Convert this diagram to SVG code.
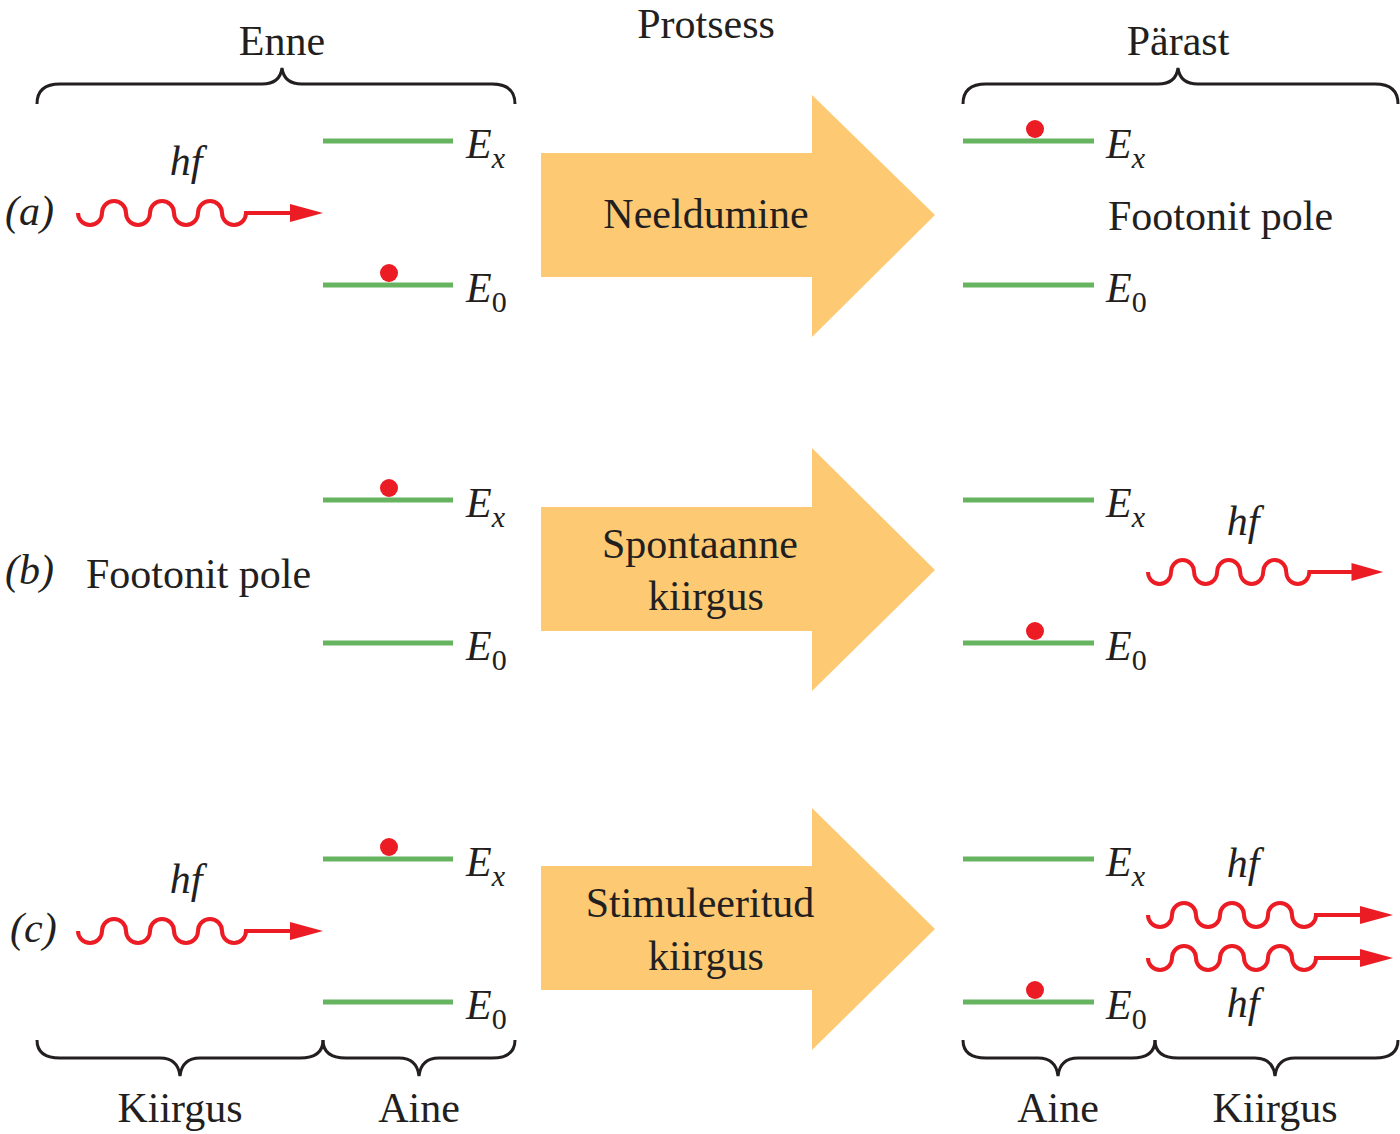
<svg xmlns="http://www.w3.org/2000/svg" xmlns:xlink="http://www.w3.org/1999/xlink" width="1400" height="1134" viewBox="0 0 1400 1134">
<style>
text{font-family:"Liberation Serif","Times New Roman",serif;fill:#231f20}
.t{font-size:42px}
.m{font-size:42px;font-style:italic}
.s{font-size:30px;font-style:normal}
.sub{font-size:30px}
.lv{stroke:#66b360;stroke-width:5;fill:none}
.br{stroke:#231f20;stroke-width:3;fill:none}
.big{fill:#fdca73}
.dot{fill:#ec1c24}
.wv{stroke:#ec1c24;stroke-width:4;fill:none}
</style>
<defs>
<g id="wave">
<path class="wv" d="M0,0 a12,12 0 0 0 24,0 a12,12 0 0 1 24,0 a12,12 0 0 0 24,0 a12,12 0 0 1 24,0 a12,12 0 0 0 24,0 a12,12 0 0 1 24,0 a12,12 0 0 0 24,0 L214,0"/>
<path class="dot" d="M212,-9 L245,0 L212,9 Z"/>
</g>
</defs>
<g id="headers">
<text class="t" x="282" y="55" text-anchor="middle">Enne</text>
<text class="t" x="706" y="38" text-anchor="middle">Protsess</text>
<text class="t" x="1178" y="55" text-anchor="middle">Pärast</text>
<text class="t" x="180" y="1122" text-anchor="middle">Kiirgus</text>
<text class="t" x="419" y="1122" text-anchor="middle">Aine</text>
<text class="t" x="1058" y="1122" text-anchor="middle">Aine</text>
<text class="t" x="1275" y="1122" text-anchor="middle">Kiirgus</text>
</g>
<g id="braces">
<path class="br" d="M37,104 Q37,84 60,84 L262,84 Q280,84 282,68 Q284,84 302,84 L492,84 Q515,84 515,104"/>
<path class="br" d="M963,104 Q963,84 986,84 L1158,84 Q1176,84 1178,68 Q1180,84 1198,84 L1375,84 Q1398,84 1398,104"/>
<path class="br" d="M37,1040 Q37,1058 60,1058 L160,1058 Q178,1058 180,1076 Q182,1058 200,1058 L300,1058 Q323,1058 323,1040"/>
<path class="br" d="M323,1040 Q323,1058 346,1058 L399,1058 Q417,1058 419,1076 Q421,1058 439,1058 L492,1058 Q515,1058 515,1040"/>
<path class="br" d="M963,1040 Q963,1058 986,1058 L1038,1058 Q1056,1058 1058,1076 Q1060,1058 1078,1058 L1132,1058 Q1155,1058 1155,1040"/>
<path class="br" d="M1155,1040 Q1155,1058 1178,1058 L1255,1058 Q1273,1058 1275,1076 Q1277,1058 1295,1058 L1375,1058 Q1398,1058 1398,1040"/>
</g>
<g id="row-a">
<text class="m" x="5" y="225">(<tspan>a</tspan>)</text>
<text class="m" x="186" y="175" text-anchor="middle">hf</text>
<use xlink:href="#wave" x="78" y="213"/>
<line class="lv" x1="323" y1="141" x2="453" y2="141"/>
<line class="lv" x1="323" y1="285" x2="453" y2="285"/>
<circle class="dot" cx="389" cy="273" r="9"/>
<text class="m" x="466" y="158">E<tspan class="sub" dy="10">x</tspan></text>
<text class="m" x="466" y="302">E<tspan class="sub s" dy="10">0</tspan></text>
<path class="big" d="M541,153 L812,153 L812,95 L935,215 L812,337 L812,277 L541,277 Z"/>
<text class="t" x="706" y="228" text-anchor="middle">Neeldumine</text>
<line class="lv" x1="963" y1="141" x2="1094" y2="141"/>
<line class="lv" x1="963" y1="285" x2="1094" y2="285"/>
<circle class="dot" cx="1035" cy="129" r="9"/>
<text class="m" x="1106" y="158">E<tspan class="sub" dy="10">x</tspan></text>
<text class="m" x="1106" y="302">E<tspan class="sub s" dy="10">0</tspan></text>
<text class="t" x="1108" y="230">Footonit pole</text>
</g>
<g id="row-b">
<text class="m" x="5" y="584">(<tspan>b</tspan>)</text>
<text class="t" x="86" y="588">Footonit pole</text>
<line class="lv" x1="323" y1="500" x2="453" y2="500"/>
<line class="lv" x1="323" y1="643" x2="453" y2="643"/>
<circle class="dot" cx="389" cy="488" r="9"/>
<text class="m" x="466" y="517">E<tspan class="sub" dy="10">x</tspan></text>
<text class="m" x="466" y="660">E<tspan class="sub s" dy="10">0</tspan></text>
<path class="big" d="M541,507 L812,507 L812,448 L935,570 L812,691 L812,631 L541,631 Z"/>
<text class="t" x="700" y="558" text-anchor="middle">Spontaanne</text>
<text class="t" x="706" y="610" text-anchor="middle">kiirgus</text>
<line class="lv" x1="963" y1="500" x2="1094" y2="500"/>
<line class="lv" x1="963" y1="643" x2="1094" y2="643"/>
<circle class="dot" cx="1035" cy="631" r="9"/>
<text class="m" x="1106" y="517">E<tspan class="sub" dy="10">x</tspan></text>
<text class="m" x="1106" y="660">E<tspan class="sub s" dy="10">0</tspan></text>
<text class="m" x="1243" y="535" text-anchor="middle">hf</text>
<use xlink:href="#wave" x="1148" y="572" transform="translate(1148 572) scale(0.96 1) translate(-1148 -572)"/>
</g>
<g id="row-c">
<text class="m" x="10" y="942">(<tspan>c</tspan>)</text>
<text class="m" x="186" y="893" text-anchor="middle">hf</text>
<use xlink:href="#wave" x="78" y="931"/>
<line class="lv" x1="323" y1="859" x2="453" y2="859"/>
<line class="lv" x1="323" y1="1002" x2="453" y2="1002"/>
<circle class="dot" cx="389" cy="847" r="9"/>
<text class="m" x="466" y="876">E<tspan class="sub" dy="10">x</tspan></text>
<text class="m" x="466" y="1019">E<tspan class="sub s" dy="10">0</tspan></text>
<path class="big" d="M541,866 L812,866 L812,808 L935,929 L812,1050 L812,990 L541,990 Z"/>
<text class="t" x="700" y="917" text-anchor="middle">Stimuleeritud</text>
<text class="t" x="706" y="970" text-anchor="middle">kiirgus</text>
<line class="lv" x1="963" y1="859" x2="1094" y2="859"/>
<line class="lv" x1="963" y1="1002" x2="1094" y2="1002"/>
<circle class="dot" cx="1035" cy="990" r="9"/>
<text class="m" x="1106" y="876">E<tspan class="sub" dy="10">x</tspan></text>
<text class="m" x="1106" y="1019">E<tspan class="sub s" dy="10">0</tspan></text>
<text class="m" x="1243" y="877" text-anchor="middle">hf</text>
<text class="m" x="1243" y="1017" text-anchor="middle">hf</text>
<use xlink:href="#wave" x="1148" y="915"/>
<use xlink:href="#wave" x="1148" y="958"/>
</g>
</svg>
